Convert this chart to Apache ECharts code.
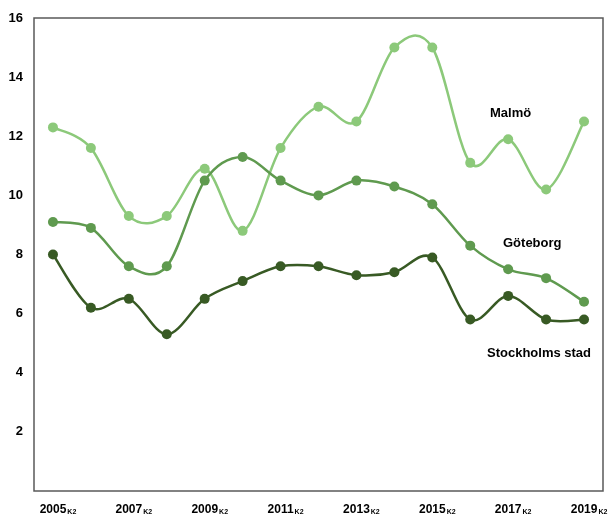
<!DOCTYPE html>
<html>
<head>
<meta charset="utf-8">
<script src="https://cdn.jsdelivr.net/npm/echarts@6/dist/echarts.min.js"></script>
<style>
  html, body { margin: 0; padding: 0; background: #fff; }
  #chart { width: 611px; height: 518px; }
</style>
</head>
<body>
<div id="chart"></div>
<script>
// år (kvartal 2)
const years = ["2005", "2006", "2007", "2008", "2009", "2010", "2011", "2012",
  "2013", "2014", "2015", "2016", "2017", "2018", "2019"];
const malmo = [12.3, 11.6, 9.3, 9.3, 10.9, 8.8, 11.6, 13.0, 12.5, 15.0, 15.0, 11.1, 11.9, 10.2, 12.5];
const goteborg = [9.1, 8.9, 7.6, 7.6, 10.5, 11.3, 10.5, 10.0, 10.5, 10.3, 9.7, 8.3, 7.5, 7.2, 6.4];
const stockholm = [8.0, 6.2, 6.5, 5.3, 6.5, 7.1, 7.6, 7.6, 7.3, 7.4, 7.9, 5.8, 6.6, 5.8, 5.8];
const yTicks = [2, 4, 6, 8, 10, 12, 14, 16];

const font = "'Liberation Sans', Arial, sans-serif";

// utjämnad linje som i Excel (Catmull-Rom -> bezier)
function smoothPath(values, api) {
  const pts = values.map((v, i) => api.coord([i, v]));
  let d = "M" + pts[0][0] + "," + pts[0][1];
  for (let i = 0; i < pts.length - 1; i++) {
    const p0 = pts[i - 1] || pts[i];
    const p1 = pts[i];
    const p2 = pts[i + 1];
    const p3 = pts[i + 2] || pts[i + 1];
    const c1x = p1[0] + (p2[0] - p0[0]) / 6, c1y = p1[1] + (p2[1] - p0[1]) / 6;
    const c2x = p2[0] - (p3[0] - p1[0]) / 6, c2y = p2[1] - (p3[1] - p1[1]) / 6;
    d += " C" + c1x + "," + c1y + " " + c2x + "," + c2y + " " + p2[0] + "," + p2[1];
  }
  return d;
}

function curveSeries(name, data, color) {
  return {
    name: name,
    type: "custom",
    data: [0],
    silent: true,
    renderItem: (params, api) => ({
      type: "path",
      shape: { pathData: smoothPath(data, api) },
      style: { fill: "none", stroke: color, lineWidth: 2.5 }
    })
  };
}

function dotSeries(name, data, color) {
  return {
    name: name,
    type: "line",
    data: data,
    symbol: "circle",
    symbolSize: 10,
    itemStyle: { color: color },
    lineStyle: { width: 0, opacity: 0 },
    z: 3,
    emphasis: { disabled: true }
  };
}

const chart = echarts.init(document.getElementById("chart"));
chart.setOption({
  animation: false,
  grid: {
    left: 34, right: 8, top: 18, bottom: 27,
    show: true,
    borderColor: "#595959",
    borderWidth: 1.5
  },
  xAxis: {
    type: "category",
    data: years,
    boundaryGap: true,
    axisLine: { show: false },
    axisTick: { show: false },
    axisLabel: {
      interval: 1,
      margin: 13,
      formatter: v => "{a|" + v + "}{b|K2}",
      padding: [0, 0, 0, 10],
      rich: {
        a: { fontFamily: font, fontWeight: "bold", fontSize: 12, color: "#000" },
        b: { fontFamily: font, fontWeight: "bold", fontSize: 7, color: "#000",
             verticalAlign: "bottom", padding: [5, 0, 0, 1] }
      }
    }
  },
  yAxis: {
    type: "value",
    min: 0,
    max: 16,
    interval: 2,
    axisLine: { show: false },
    axisTick: { show: false },
    splitLine: { show: false },
    axisLabel: {
      margin: 11,
      fontFamily: font,
      fontWeight: "bold",
      fontSize: 13,
      color: "#000",
      formatter: v => (yTicks.indexOf(v) >= 0 ? String(v) : "")
    }
  },
  series: [
    curveSeries("Malmö", malmo, "#8cc97a"),
    curveSeries("Göteborg", goteborg, "#5f9a4f"),
    curveSeries("Stockholms stad", stockholm, "#385a24"),
    dotSeries("Malmö", malmo, "#8cc97a"),
    dotSeries("Göteborg", goteborg, "#5f9a4f"),
    dotSeries("Stockholms stad", stockholm, "#385a24")
  ],
  graphic: [
    { type: "text", left: 490, top: 107,
      style: { text: "Malmö", font: "bold 13px " + font, fill: "#000" } },
    { type: "text", left: 503, top: 237,
      style: { text: "Göteborg", font: "bold 13px " + font, fill: "#000" } },
    { type: "text", left: 487, top: 347,
      style: { text: "Stockholms stad", font: "bold 13px " + font, fill: "#000" } }
  ]
});
</script>
</body>
</html>
